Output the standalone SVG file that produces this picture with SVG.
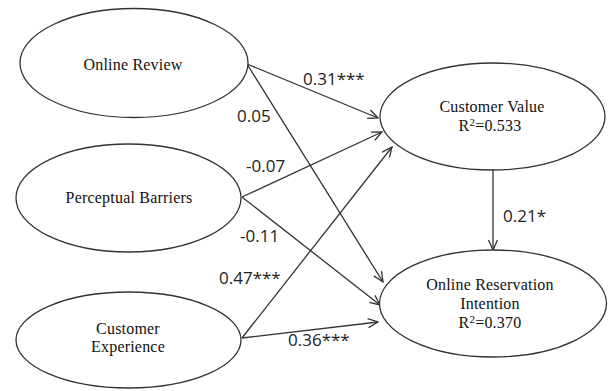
<svg xmlns="http://www.w3.org/2000/svg" width="608" height="391" viewBox="0 0 608 391">
<defs>
<style>
.node ellipse{fill:#fff;stroke:#333;stroke-width:1.3}
.nt{font-family:"Liberation Serif","Times New Roman",serif;font-size:16px;letter-spacing:0.2px;fill:#111;text-anchor:middle}
.sup{font-size:11px}
.edges line{stroke:#333;stroke-width:1.3;fill:none}
.lbl{font-family:"Open Sans","Liberation Sans",sans-serif;font-size:17px;fill:#222}
</style>
<marker id="ah" viewBox="0 0 12 12" refX="11" refY="6" markerWidth="12" markerHeight="12" markerUnits="userSpaceOnUse" orient="auto">
<path d="M1,1.5 L11,6 L1,10.5" fill="none" stroke="#333" stroke-width="1.3"/>
</marker>
</defs>
<rect width="608" height="391" fill="#fff"/>
<g class="edges">
<line x1="247" y1="64" x2="378" y2="118" marker-end="url(#ah)"/>
<line x1="247" y1="64" x2="383" y2="282" marker-end="url(#ah)"/>
<line x1="242" y1="197" x2="382" y2="132" marker-end="url(#ah)"/>
<line x1="242" y1="197" x2="380" y2="305" marker-end="url(#ah)"/>
<line x1="242" y1="338" x2="392" y2="147" marker-end="url(#ah)"/>
<line x1="242" y1="338" x2="378" y2="322" marker-end="url(#ah)"/>
<line x1="493" y1="170" x2="493" y2="250" marker-end="url(#ah)"/>
</g>
<g id="labels">
<text class="lbl" x="303" y="85">0.31***</text>
<text class="lbl" x="237" y="122">0.05</text>
<text class="lbl" x="246" y="172">-0.07</text>
<text class="lbl" x="240" y="242">-0.11</text>
<text class="lbl" x="219" y="284">0.47***</text>
<text class="lbl" x="288" y="346">0.36***</text>
<text class="lbl" x="503" y="222">0.21*</text>
</g>
<g id="online-review" class="node">
<ellipse cx="134" cy="63" rx="114" ry="54.5"/>
<text class="nt" x="133" y="70">Online Review</text>
</g>
<g id="perceptual-barriers" class="node">
<ellipse cx="128.5" cy="198" rx="112.5" ry="54"/>
<text class="nt" x="129" y="203">Perceptual Barriers</text>
</g>
<g id="customer-experience" class="node">
<ellipse cx="128.5" cy="340" rx="112.5" ry="48"/>
<text class="nt" x="128" y="334">Customer</text>
<text class="nt" x="128" y="352">Experience</text>
</g>
<g id="customer-value" class="node">
<ellipse cx="492.5" cy="116.5" rx="112.5" ry="53.5"/>
<text class="nt" x="492" y="112">Customer Value</text>
<text class="nt" x="490" y="131">R<tspan class="sup" dy="-5">2</tspan><tspan dy="5">=0.533</tspan></text>
</g>
<g id="online-reservation-intention" class="node">
<ellipse cx="493" cy="303.5" rx="113.5" ry="53.5"/>
<text class="nt" x="490" y="290">Online Reservation</text>
<text class="nt" x="490" y="309">Intention</text>
<text class="nt" x="490" y="328">R<tspan class="sup" dy="-5">2</tspan><tspan dy="5">=0.370</tspan></text>
</g>
</svg>
